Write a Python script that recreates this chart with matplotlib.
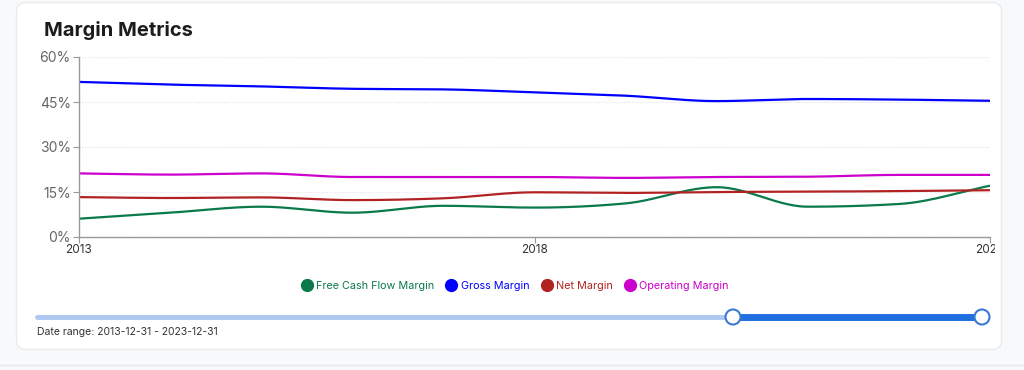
import numpy as np
import matplotlib
matplotlib.use("Agg")
import matplotlib.pyplot as plt
from matplotlib.patches import FancyBboxPatch, Circle
from matplotlib.lines import Line2D
from matplotlib.transforms import Bbox

plt.rcParams['font.family'] = ['Inter', 'DejaVu Sans']

# ---- data ----
years = [2013, 2014, 2015, 2016, 2017, 2018, 2019, 2020, 2021, 2022, 2023]
fcf_margin = [6.1, 8.1, 10.1, 8.1, 10.4, 9.8, 11.2, 16.6, 10.1, 11.0, 17.1]
gross_margin = [51.7, 50.8, 50.2, 49.4, 49.2, 48.2, 47.1, 45.3, 46.0, 45.8, 45.4]
net_margin = [13.3, 13.0, 13.2, 12.3, 12.9, 14.9, 14.7, 15.0, 15.1, 15.3, 15.6]
op_margin = [21.2, 20.8, 21.2, 20.0, 20.0, 20.0, 19.7, 20.0, 20.1, 20.7, 20.7]
series_names = ["Free Cash Flow Margin", "Gross Margin", "Net Margin", "Operating Margin"]
series_colors = ["#0b7a4b", "#0000ff", "#b22222", "#cc00cc"]
y_ticks = [0, 15, 30, 45, 60]
x_ticks = [2013, 2018, 2023]
title = "Margin Metrics"
date_range_text = "Date range: 2013-12-31 - 2023-12-31"

W, H = 1024, 370


def monotone(x, y, n=30):
    x = np.asarray(x, float); y = np.asarray(y, float)
    h = np.diff(x); d = np.diff(y) / h
    m = np.zeros_like(y)
    m[0] = d[0]; m[-1] = d[-1]
    for i in range(1, len(y) - 1):
        if d[i - 1] * d[i] <= 0:
            m[i] = 0
        else:
            s0, s1 = d[i - 1], d[i]
            p = (s0 * h[i] + s1 * h[i - 1]) / (h[i - 1] + h[i])
            m[i] = (np.sign(s0) + np.sign(s1)) * min(abs(s0), abs(s1), 0.5 * abs(p))
    xs, ys = [], []
    for i in range(len(x) - 1):
        t = np.linspace(0, 1, n, endpoint=False)
        h00 = 2 * t**3 - 3 * t**2 + 1
        h10 = t**3 - 2 * t**2 + t
        h01 = -2 * t**3 + 3 * t**2
        h11 = t**3 - t**2
        xs.append(x[i] + t * h[i])
        ys.append(h00 * y[i] + h10 * h[i] * m[i] + h01 * y[i + 1] + h11 * h[i] * m[i + 1])
    xs.append([x[-1]]); ys.append([y[-1]])
    return np.concatenate(xs), np.concatenate(ys)


fig = plt.figure(figsize=(W / 100, H / 100), dpi=100)
fig.patch.set_facecolor("#f8f9fb")

# overlay axes in pixel coordinates
bg = fig.add_axes([0, 0, 1, 1], zorder=0)
bg.set_xlim(0, W); bg.set_ylim(H, 0); bg.axis("off")
card = FancyBboxPatch((16.5, 2.5), 985, 347, boxstyle="round,pad=0,rounding_size=9",
                      facecolor="white", edgecolor="#e8eaed", linewidth=1.0)
bg.add_patch(card)
bg.plot([0, W], [365, 365], color="#e5e7ea", lw=1.0)
bg.text(44, 30, title, fontsize=14.5, fontweight="bold", color="#1c1c1c", va="center", ha="left")

# main chart
L, R, T, B = 79, 990, 57, 237
ax = fig.add_axes([L / W, 1 - B / H, (R - L) / W, (B - T) / H], zorder=2)
ax.patch.set_alpha(0)
for vals, name, c in zip([fcf_margin, gross_margin, net_margin, op_margin], series_names, series_colors):
    xs, ys = monotone(years, vals)
    ax.plot(xs, ys, color=c, lw=1.6, label=name, solid_capstyle="round")
ax.set_xlim(years[0], years[-1])
ax.set_ylim(0, 60)
ax.set_yticks(y_ticks)
ax.set_yticklabels([f"{v}%" for v in y_ticks])
ax.set_xticks(x_ticks)
ax.set_xticklabels([str(v) for v in x_ticks])
ax.grid(axis="y", color="#e2e2e2", linestyle=(0, (1, 1.5)), lw=0.8)
ax.set_axisbelow(True)
for s in ["top", "right"]:
    ax.spines[s].set_visible(False)
for s in ["left", "bottom"]:
    ax.spines[s].set_color("#999999")
    ax.spines[s].set_linewidth(1.0)
ax.tick_params(axis="y", colors="#999999", labelcolor="#666666", labelsize=10, length=4, pad=2)
ax.tick_params(axis="x", colors="#999999", labelcolor="#333333", labelsize=8.5, length=4, pad=1)
clipbox = Bbox.from_extents(0, 0, 995, H)
for lab in ax.get_xticklabels():
    lab.set_clip_on(True)
    lab.set_clip_box(clipbox)

# legend
handles = [Line2D([], [], marker="o", linestyle="none", markersize=8.5, color=c,
                  markeredgecolor=c) for c in series_colors]
leg = fig.legend(handles, series_names, loc="center", bbox_to_anchor=(515 / W, 1 - 286 / H),
                 ncol=4, frameon=False, fontsize=7.8, handletextpad=0.35, columnspacing=1.1,
                 labelcolor=series_colors, handlelength=1.0)

# slider
bg.plot([37, 733], [317, 317], color="#aec8f2", lw=3.5, solid_capstyle="round", zorder=3)
bg.plot([733, 982], [317, 317], color="#1f6fe0", lw=5, solid_capstyle="butt", zorder=3)
for cx in [733, 982]:
    bg.add_patch(Circle((cx, 317), 7.5, facecolor="white", edgecolor="#3a78d4", lw=1.5, zorder=4))
bg.text(37, 332, date_range_text, fontsize=7.5, color="#333333", va="center", ha="left")

fig.savefig("out.png", dpi=100, facecolor=fig.get_facecolor())
